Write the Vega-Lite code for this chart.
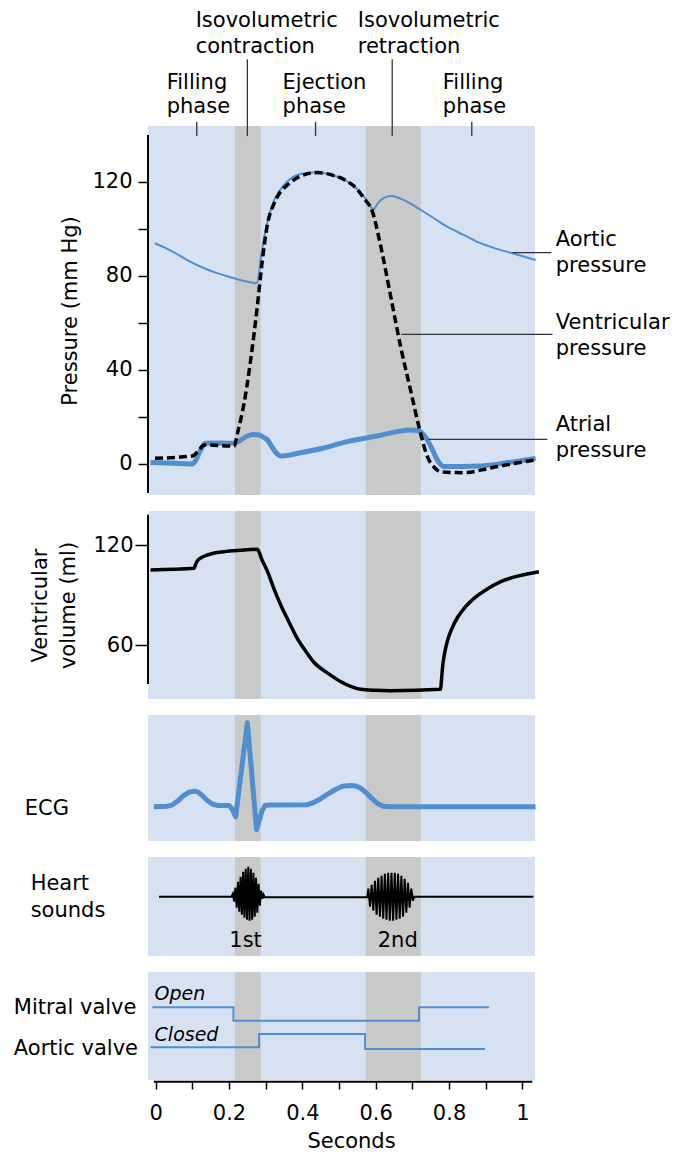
{
  "$schema": "https://vega.github.io/schema/vega-lite/v6.json",
  "padding": {"left": 13, "top": 10, "right": 5, "bottom": 0},
  "autosize": {"type": "pad"},
  "background": "white",
  "spacing": 16,
  "bounds": "flush",
  "data": {"values": [{}]},
  "config": {
    "view": {"fill": "#d6e2f2", "stroke": null},
    "font": "DejaVu Sans",
    "axis": {"labelFont": "DejaVu Sans", "labelFontSize": 21, "labelColor": "black", "titleFont": "DejaVu Sans", "titleFontSize": 21, "titleFontWeight": "normal", "titleColor": "black", "tickColor": "black", "tickWidth": 1.5, "grid": false, "domain": false},
    "text": {"font": "DejaVu Sans", "fontSize": 21, "color": "black"}
  },
  "datasets": {
    "bands": [
      {"phase": "Isovolumetric contraction", "start": 0.216, "end": 0.286},
      {"phase": "Isovolumetric retraction", "start": 0.573, "end": 0.723}
    ],
    "aortic": [
      {"t": -0.002, "p": 93.8}, {"t": 0.03, "p": 91.5}, {"t": 0.06, "p": 89}, {"t": 0.09, "p": 86.3}, {"t": 0.123, "p": 83.8},
      {"t": 0.16, "p": 81.5}, {"t": 0.19, "p": 80}, {"t": 0.214, "p": 78.9}, {"t": 0.245, "p": 77.6}, {"t": 0.275, "p": 76.8},
      {"t": 0.281, "p": 80}, {"t": 0.286, "p": 86.7}, {"t": 0.292, "p": 93}, {"t": 0.3, "p": 99.4}, {"t": 0.31, "p": 106},
      {"t": 0.323, "p": 112}, {"t": 0.34, "p": 116.5}, {"t": 0.359, "p": 120}, {"t": 0.375, "p": 122}, {"t": 0.395, "p": 123.2},
      {"t": 0.441, "p": 123.9}, {"t": 0.48, "p": 122.8}, {"t": 0.523, "p": 120}, {"t": 0.548, "p": 117}, {"t": 0.568, "p": 113.6},
      {"t": 0.594, "p": 108.2}, {"t": 0.605, "p": 110.5}, {"t": 0.62, "p": 112.8}, {"t": 0.641, "p": 113.8}, {"t": 0.66, "p": 113.2},
      {"t": 0.69, "p": 111}, {"t": 0.723, "p": 107.9}, {"t": 0.76, "p": 104.3}, {"t": 0.795, "p": 100.8}, {"t": 0.84, "p": 97.3},
      {"t": 0.886, "p": 93.8}, {"t": 0.93, "p": 91.4}, {"t": 0.973, "p": 89.5}, {"t": 1.036, "p": 86.7}
    ],
    "ventricular": [
      {"t": -0.002, "p": 2.4}, {"t": 0.1, "p": 3.4}, {"t": 0.116, "p": 5.5}, {"t": 0.132, "p": 8.1}, {"t": 0.214, "p": 7.6},
      {"t": 0.223, "p": 13}, {"t": 0.232, "p": 19}, {"t": 0.241, "p": 25.8}, {"t": 0.259, "p": 44.2}, {"t": 0.277, "p": 66.8},
      {"t": 0.291, "p": 86.7}, {"t": 0.305, "p": 102}, {"t": 0.323, "p": 110.7}, {"t": 0.34, "p": 115.5}, {"t": 0.359, "p": 118.5},
      {"t": 0.395, "p": 122.3}, {"t": 0.441, "p": 123.8}, {"t": 0.48, "p": 122.8}, {"t": 0.523, "p": 120}, {"t": 0.548, "p": 117},
      {"t": 0.568, "p": 112.9}, {"t": 0.591, "p": 107.2}, {"t": 0.614, "p": 92.3}, {"t": 0.641, "p": 71.1}, {"t": 0.668, "p": 49.8},
      {"t": 0.695, "p": 31.4}, {"t": 0.718, "p": 15.8}, {"t": 0.741, "p": 3.1}, {"t": 0.76, "p": -1.5}, {"t": 0.777, "p": -3.3},
      {"t": 0.841, "p": -3.7}, {"t": 0.89, "p": -2.5}, {"t": 0.932, "p": -1.1}, {"t": 1.036, "p": 1.7}
    ],
    "atrial": [
      {"t": -0.014, "p": 0.6}, {"t": 0.05, "p": 0.3}, {"t": 0.1, "p": 0}, {"t": 0.109, "p": 1.5}, {"t": 0.118, "p": 4.5},
      {"t": 0.127, "p": 7.2}, {"t": 0.136, "p": 8.8}, {"t": 0.175, "p": 8.9}, {"t": 0.214, "p": 8.8}, {"t": 0.232, "p": 10.2},
      {"t": 0.25, "p": 11.9}, {"t": 0.266, "p": 12.5}, {"t": 0.282, "p": 12.3}, {"t": 0.294, "p": 11.3}, {"t": 0.305, "p": 10.2},
      {"t": 0.314, "p": 8}, {"t": 0.323, "p": 5.9}, {"t": 0.332, "p": 4.2}, {"t": 0.341, "p": 3.4}, {"t": 0.395, "p": 4.8},
      {"t": 0.45, "p": 6.5}, {"t": 0.523, "p": 9.5}, {"t": 0.6, "p": 11.8}, {"t": 0.695, "p": 14.4}, {"t": 0.718, "p": 14.1},
      {"t": 0.73, "p": 12.5}, {"t": 0.741, "p": 10.2}, {"t": 0.755, "p": 6}, {"t": 0.768, "p": 1.7}, {"t": 0.786, "p": -1.1},
      {"t": 0.886, "p": -0.8}, {"t": 0.96, "p": 0.6}, {"t": 1.036, "p": 2.4}
    ],
    "volume": [
      {"t": -0.014, "v": 105}, {"t": 0.105, "v": 106}, {"t": 0.109, "v": 108.5}, {"t": 0.114, "v": 110.5}, {"t": 0.125, "v": 112.5},
      {"t": 0.141, "v": 114}, {"t": 0.16, "v": 115.2}, {"t": 0.186, "v": 116}, {"t": 0.23, "v": 116.8}, {"t": 0.277, "v": 117.4},
      {"t": 0.29, "v": 111}, {"t": 0.305, "v": 104}, {"t": 0.322, "v": 94}, {"t": 0.341, "v": 84}, {"t": 0.363, "v": 74},
      {"t": 0.386, "v": 64}, {"t": 0.41, "v": 56}, {"t": 0.432, "v": 49.5}, {"t": 0.47, "v": 43}, {"t": 0.505, "v": 38},
      {"t": 0.53, "v": 35.3}, {"t": 0.559, "v": 33.4}, {"t": 0.6, "v": 32.8}, {"t": 0.641, "v": 32.6}, {"t": 0.777, "v": 33.4},
      {"t": 0.779, "v": 38}, {"t": 0.782, "v": 46}, {"t": 0.787, "v": 54}, {"t": 0.795, "v": 62}, {"t": 0.808, "v": 70},
      {"t": 0.823, "v": 76.5}, {"t": 0.845, "v": 83}, {"t": 0.868, "v": 88}, {"t": 0.9, "v": 93}, {"t": 0.941, "v": 98},
      {"t": 0.99, "v": 101.5}, {"t": 1.045, "v": 104}
    ],
    "ecg": [
      {"t": -0.005, "mv": 0}, {"t": 0.03, "mv": 0.01}, {"t": 0.045, "mv": 0.04}, {"t": 0.06, "mv": 0.14}, {"t": 0.075, "mv": 0.27},
      {"t": 0.09, "mv": 0.36}, {"t": 0.105, "mv": 0.39}, {"t": 0.115, "mv": 0.37}, {"t": 0.125, "mv": 0.3}, {"t": 0.14, "mv": 0.16},
      {"t": 0.155, "mv": 0.06}, {"t": 0.17, "mv": 0.03}, {"t": 0.2, "mv": 0.03}, {"t": 0.208, "mv": -0.05}, {"t": 0.218, "mv": -0.25},
      {"t": 0.25, "mv": 2.1}, {"t": 0.275, "mv": -0.57}, {"t": 0.29, "mv": -0.1}, {"t": 0.298, "mv": 0.03}, {"t": 0.31, "mv": 0.04},
      {"t": 0.414, "mv": 0.05}, {"t": 0.43, "mv": 0.1}, {"t": 0.45, "mv": 0.2}, {"t": 0.47, "mv": 0.32}, {"t": 0.49, "mv": 0.43},
      {"t": 0.51, "mv": 0.51}, {"t": 0.53, "mv": 0.53}, {"t": 0.545, "mv": 0.52}, {"t": 0.56, "mv": 0.46}, {"t": 0.575, "mv": 0.34},
      {"t": 0.59, "mv": 0.2}, {"t": 0.605, "mv": 0.08}, {"t": 0.62, "mv": 0.01}, {"t": 0.64, "mv": 0}, {"t": 1.036, "mv": 0}
    ],
    "sounds": [
      {"t": 0.009, "a": 0}, {"t": 0.207, "a": 0},
      {"t": 0.2105, "a": 3}, {"t": 0.214, "a": -5}, {"t": 0.2175, "a": 9}, {"t": 0.221, "a": -11}, {"t": 0.2245, "a": 15},
      {"t": 0.228, "a": -15}, {"t": 0.2315, "a": 20}, {"t": 0.235, "a": -18}, {"t": 0.2385, "a": 25}, {"t": 0.242, "a": -21},
      {"t": 0.2455, "a": 28}, {"t": 0.249, "a": -23}, {"t": 0.2525, "a": 30}, {"t": 0.256, "a": -24}, {"t": 0.2595, "a": 28},
      {"t": 0.263, "a": -23}, {"t": 0.2665, "a": 24}, {"t": 0.27, "a": -20}, {"t": 0.2735, "a": 19}, {"t": 0.277, "a": -16},
      {"t": 0.2805, "a": 13}, {"t": 0.284, "a": -9}, {"t": 0.2875, "a": 6}, {"t": 0.291, "a": -2}, {"t": 0.294, "a": 2},
      {"t": 0.297, "a": -0.5}, {"t": 0.577, "a": -0.5},
      {"t": 0.58, "a": 8}, {"t": 0.5845, "a": -10}, {"t": 0.589, "a": 12}, {"t": 0.5935, "a": -14}, {"t": 0.598, "a": 16},
      {"t": 0.6025, "a": -18}, {"t": 0.607, "a": 19}, {"t": 0.6115, "a": -20}, {"t": 0.616, "a": 21}, {"t": 0.6205, "a": -22},
      {"t": 0.625, "a": 23}, {"t": 0.6295, "a": -23}, {"t": 0.634, "a": 24}, {"t": 0.6385, "a": -24}, {"t": 0.643, "a": 24},
      {"t": 0.6475, "a": -24}, {"t": 0.652, "a": 24}, {"t": 0.6565, "a": -23}, {"t": 0.661, "a": 23}, {"t": 0.6655, "a": -22},
      {"t": 0.67, "a": 21}, {"t": 0.6745, "a": -20}, {"t": 0.679, "a": 18}, {"t": 0.6835, "a": -16}, {"t": 0.688, "a": 14},
      {"t": 0.6925, "a": -11}, {"t": 0.697, "a": 8}, {"t": 0.7015, "a": -4}, {"t": 0.705, "a": 0}, {"t": 1.03, "a": 0}
    ],
    "mitral": [
      {"t": -0.009, "level": 71.7}, {"t": 0.212, "level": 58.3}, {"t": 0.718, "level": 71.7}, {"t": 0.909, "level": 71.7}
    ],
    "aorticValve": [
      {"t": -0.014, "level": 31.7}, {"t": 0.282, "level": 45}, {"t": 0.571, "level": 30}, {"t": 0.898, "level": 30}
    ]
  },
  "vconcat": [
    {
      "width": 387,
      "height": 369,
      "resolve": {"axis": {"x": "independent", "y": "independent"}},
      "layer": [
        {"data": {"name": "bands"}, "mark": {"type": "rect", "color": "#c9c9c9"},
         "encoding": {"x": {"field": "start", "type": "quantitative", "scale": {"domain": [-0.021, 1.0344], "nice": false, "zero": false}, "axis": null}, "x2": {"field": "end"}}},
        {"data": {"name": "aortic"}, "mark": {"type": "line", "color": "#4f8fcf", "strokeWidth": 2, "interpolate": "monotone"},
         "encoding": {"x": {"field": "t", "type": "quantitative", "scale": {"domain": [-0.021, 1.0344], "nice": false, "zero": false}, "axis": null},
                      "y": {"field": "p", "type": "quantitative", "scale": {"domain": [-13.17, 143.59], "nice": false, "zero": false},
                            "axis": {"title": "Pressure (mm Hg)", "values": [0, 20, 40, 60, 80, 100, 120], "labelExpr": "datum.value % 40 === 0 ? datum.label : ''", "tickSize": 10, "labelPadding": 6, "titlePadding": 11}}}},
        {"data": {"name": "atrial"}, "mark": {"type": "line", "color": "#4f8fcf", "strokeWidth": 5, "interpolate": "monotone"},
         "encoding": {"x": {"field": "t", "type": "quantitative", "scale": {"domain": [-0.021, 1.0344], "nice": false, "zero": false}, "axis": null},
                      "y": {"field": "p", "type": "quantitative", "scale": {"domain": [-13.17, 143.59], "nice": false, "zero": false}, "axis": null}}},
        {"data": {"name": "ventricular"}, "mark": {"type": "line", "color": "black", "strokeWidth": 3.5, "strokeDash": [8, 4], "interpolate": "monotone"},
         "encoding": {"x": {"field": "t", "type": "quantitative", "scale": {"domain": [-0.021, 1.0344], "nice": false, "zero": false}, "axis": null},
                      "y": {"field": "p", "type": "quantitative", "scale": {"domain": [-13.17, 143.59], "nice": false, "zero": false}, "axis": null}}},
        {"mark": {"type": "rule", "color": "black", "strokeWidth": 2},
         "encoding": {"x": {"datum": -0.021, "axis": null}, "y": {"datum": 139.8, "axis": null}, "y2": {"datum": -12.3}}},
        {"mark": {"type": "rule", "color": "#333333", "strokeWidth": 1.3},
         "encoding": {"x": {"datum": 0.973, "axis": null}, "x2": {"datum": 1.079}, "y": {"datum": 89.8, "axis": null}}},
        {"mark": {"type": "rule", "color": "#333333", "strokeWidth": 1.3},
         "encoding": {"x": {"datum": 0.67, "axis": null}, "x2": {"datum": 1.082}, "y": {"datum": 55.1, "axis": null}}},
        {"mark": {"type": "rule", "color": "#333333", "strokeWidth": 1.3},
         "encoding": {"x": {"datum": 0.744, "axis": null}, "x2": {"datum": 1.068}, "y": {"datum": 10.5, "axis": null}}},
        {"mark": {"type": "text", "align": "left", "baseline": "alphabetic", "lineHeight": 26},
         "encoding": {"x": {"datum": 1.091, "axis": null}, "y": {"datum": 92.6, "axis": null}, "text": {"value": ["Aortic", "pressure"]}}},
        {"mark": {"type": "text", "align": "left", "baseline": "alphabetic", "lineHeight": 26},
         "encoding": {"x": {"datum": 1.091, "axis": null}, "y": {"datum": 57.3, "axis": null}, "text": {"value": ["Ventricular", "pressure"]}}},
        {"mark": {"type": "text", "align": "left", "baseline": "alphabetic", "lineHeight": 26},
         "encoding": {"x": {"datum": 1.091, "axis": null}, "y": {"datum": 14.1, "axis": null}, "text": {"value": ["Atrial", "pressure"]}}},
        {"mark": {"type": "rule", "color": "#333333", "strokeWidth": 1.3},
         "encoding": {"x": {"datum": 0.112, "axis": null}, "y": {"datum": 145.4, "axis": null}, "y2": {"datum": 139.3}}},
        {"mark": {"type": "rule", "color": "#333333", "strokeWidth": 1.3},
         "encoding": {"x": {"datum": 0.25, "axis": null}, "y": {"datum": 171.9, "axis": null}, "y2": {"datum": 139.3}}},
        {"mark": {"type": "rule", "color": "#333333", "strokeWidth": 1.3},
         "encoding": {"x": {"datum": 0.436, "axis": null}, "y": {"datum": 145.4, "axis": null}, "y2": {"datum": 139.3}}},
        {"mark": {"type": "rule", "color": "#333333", "strokeWidth": 1.3},
         "encoding": {"x": {"datum": 0.645, "axis": null}, "y": {"datum": 171.9, "axis": null}, "y2": {"datum": 139.3}}},
        {"mark": {"type": "rule", "color": "#333333", "strokeWidth": 1.3},
         "encoding": {"x": {"datum": 0.862, "axis": null}, "y": {"datum": 145.4, "axis": null}, "y2": {"datum": 139.3}}},
        {"mark": {"type": "text", "align": "left", "baseline": "alphabetic", "lineHeight": 26},
         "encoding": {"x": {"datum": 0.109, "axis": null}, "y": {"datum": 185.5, "axis": null}, "text": {"value": ["Isovolumetric", "contraction"]}}},
        {"mark": {"type": "text", "align": "left", "baseline": "alphabetic", "lineHeight": 26},
         "encoding": {"x": {"datum": 0.551, "axis": null}, "y": {"datum": 185.5, "axis": null}, "text": {"value": ["Isovolumetric", "retraction"]}}},
        {"mark": {"type": "text", "align": "left", "baseline": "alphabetic", "lineHeight": 24},
         "encoding": {"x": {"datum": 0.03, "axis": null}, "y": {"datum": 159.2, "axis": null}, "text": {"value": ["Filling", "phase"]}}},
        {"mark": {"type": "text", "align": "left", "baseline": "alphabetic", "lineHeight": 24},
         "encoding": {"x": {"datum": 0.346, "axis": null}, "y": {"datum": 159.2, "axis": null}, "text": {"value": ["Ejection", "phase"]}}},
        {"mark": {"type": "text", "align": "left", "baseline": "alphabetic", "lineHeight": 24},
         "encoding": {"x": {"datum": 0.783, "axis": null}, "y": {"datum": 159.2, "axis": null}, "text": {"value": ["Filling", "phase"]}}}
      ]
    },
    {
      "width": 387,
      "height": 188,
      "resolve": {"axis": {"x": "independent", "y": "independent"}},
      "layer": [
        {"data": {"name": "bands"}, "mark": {"type": "rect", "color": "#c9c9c9"},
         "encoding": {"x": {"field": "start", "type": "quantitative", "scale": {"domain": [-0.021, 1.0344], "nice": false, "zero": false}, "axis": null}, "x2": {"field": "end"}}},
        {"data": {"name": "volume"}, "mark": {"type": "line", "color": "black", "strokeWidth": 3.5, "interpolate": "monotone"},
         "encoding": {"x": {"field": "t", "type": "quantitative", "scale": {"domain": [-0.021, 1.0344], "nice": false, "zero": false}, "axis": null},
                      "y": {"field": "v", "type": "quantitative", "scale": {"domain": [27.6, 140.4], "nice": false, "zero": false},
                            "axis": {"title": ["Ventricular", "volume (ml)"], "titleLineHeight": 28, "values": [60, 120], "tickSize": 13, "labelPadding": 2, "titlePadding": 14}}}},
        {"mark": {"type": "rule", "color": "black", "strokeWidth": 2},
         "encoding": {"x": {"datum": -0.021, "axis": null}, "y": {"datum": 138.2, "axis": null}, "y2": {"datum": 36.6}}}
      ]
    },
    {
      "width": 387,
      "height": 126,
      "resolve": {"axis": {"x": "independent", "y": "independent"}},
      "layer": [
        {"data": {"name": "bands"}, "mark": {"type": "rect", "color": "#c9c9c9"},
         "encoding": {"x": {"field": "start", "type": "quantitative", "scale": {"domain": [-0.021, 1.0344], "nice": false, "zero": false}, "axis": null}, "x2": {"field": "end"}}},
        {"data": {"name": "ecg"}, "mark": {"type": "line", "color": "#4f8fcf", "strokeWidth": 5, "strokeJoin": "round"},
         "encoding": {"x": {"field": "t", "type": "quantitative", "scale": {"domain": [-0.021, 1.0344], "nice": false, "zero": false}, "axis": null},
                      "y": {"field": "mv", "type": "quantitative", "scale": {"domain": [-0.8575, 2.2925], "nice": false, "zero": false}, "axis": null}}},
        {"mark": {"type": "text", "align": "left", "baseline": "alphabetic"},
         "encoding": {"x": {"datum": -0.357, "axis": null}, "y": {"datum": -0.2075, "axis": null}, "text": {"value": "ECG"}}}
      ]
    },
    {
      "width": 387,
      "height": 99,
      "resolve": {"axis": {"x": "independent", "y": "independent"}},
      "layer": [
        {"data": {"name": "bands"}, "mark": {"type": "rect", "color": "#c9c9c9"},
         "encoding": {"x": {"field": "start", "type": "quantitative", "scale": {"domain": [-0.021, 1.0344], "nice": false, "zero": false}, "axis": null}, "x2": {"field": "end"}}},
        {"data": {"name": "sounds"}, "mark": {"type": "line", "color": "black", "strokeWidth": 2},
         "encoding": {"x": {"field": "t", "type": "quantitative", "scale": {"domain": [-0.021, 1.0344], "nice": false, "zero": false}, "axis": null},
                      "y": {"field": "a", "type": "quantitative", "scale": {"domain": [-59.3, 39.7], "nice": false, "zero": false}, "axis": null}}},
        {"mark": {"type": "text", "align": "left", "baseline": "alphabetic", "lineHeight": 26.7},
         "encoding": {"x": {"datum": -0.341, "axis": null}, "y": {"datum": 6.7, "axis": null}, "text": {"value": ["Heart", "sounds"]}}},
        {"mark": {"type": "text", "align": "center", "baseline": "alphabetic"},
         "encoding": {"x": {"datum": 0.245, "axis": null}, "y": {"datum": -50, "axis": null}, "text": {"value": "1st"}}},
        {"mark": {"type": "text", "align": "center", "baseline": "alphabetic"},
         "encoding": {"x": {"datum": 0.66, "axis": null}, "y": {"datum": -50, "axis": null}, "text": {"value": "2nd"}}}
      ]
    },
    {
      "width": 387,
      "height": 108,
      "resolve": {"axis": {"x": "independent", "y": "independent"}},
      "layer": [
        {"data": {"name": "bands"}, "mark": {"type": "rect", "color": "#c9c9c9"},
         "encoding": {"x": {"field": "start", "type": "quantitative", "scale": {"domain": [-0.021, 1.0344], "nice": false, "zero": false}, "axis": null}, "x2": {"field": "end"}}},
        {"data": {"name": "mitral"}, "mark": {"type": "line", "color": "#4f8fcf", "strokeWidth": 2, "interpolate": "step-after"},
         "encoding": {"x": {"field": "t", "type": "quantitative", "scale": {"domain": [-0.021, 1.0344], "nice": false, "zero": false},
                            "axis": {"title": "Seconds", "values": [0, 0.1, 0.2, 0.3, 0.4, 0.5, 0.6, 0.7, 0.8, 0.9, 1], "labelExpr": "indexof([0, 2, 4, 6, 8, 10], round(datum.value * 10)) >= 0 ? format(datum.value, '~g') : ''", "tickSize": 7, "offset": 2, "labelPadding": 13, "titlePadding": 7, "titleX": 203}},
                      "y": {"field": "level", "type": "quantitative", "scale": {"domain": [-1, 107], "nice": false, "zero": false}, "axis": null}}},
        {"data": {"name": "aorticValve"}, "mark": {"type": "line", "color": "#4f8fcf", "strokeWidth": 2, "interpolate": "step-after"},
         "encoding": {"x": {"field": "t", "type": "quantitative", "scale": {"domain": [-0.021, 1.0344], "nice": false, "zero": false}, "axis": null},
                      "y": {"field": "level", "type": "quantitative", "scale": {"domain": [-1, 107], "nice": false, "zero": false}, "axis": null}}},
        {"mark": {"type": "rule", "color": "black", "strokeWidth": 2},
         "encoding": {"x": {"datum": -0.005, "axis": null}, "x2": {"datum": 1.027}, "y": {"datum": -2.7, "axis": null}}},
        {"mark": {"type": "text", "align": "left", "baseline": "alphabetic", "fontSize": 19, "fontStyle": "italic"},
         "encoding": {"x": {"datum": -0.003, "axis": null}, "y": {"datum": 79, "axis": null}, "text": {"value": "Open"}}},
        {"mark": {"type": "text", "align": "left", "baseline": "alphabetic", "fontSize": 19, "fontStyle": "italic"},
         "encoding": {"x": {"datum": -0.003, "axis": null}, "y": {"datum": 37.7, "axis": null}, "text": {"value": "Closed"}}},
        {"mark": {"type": "text", "align": "left", "baseline": "alphabetic"},
         "encoding": {"x": {"datum": -0.387, "axis": null}, "y": {"datum": 65, "axis": null}, "text": {"value": "Mitral valve"}}},
        {"mark": {"type": "text", "align": "left", "baseline": "alphabetic"},
         "encoding": {"x": {"datum": -0.387, "axis": null}, "y": {"datum": 24, "axis": null}, "text": {"value": "Aortic valve"}}}
      ]
    }
  ]
}
